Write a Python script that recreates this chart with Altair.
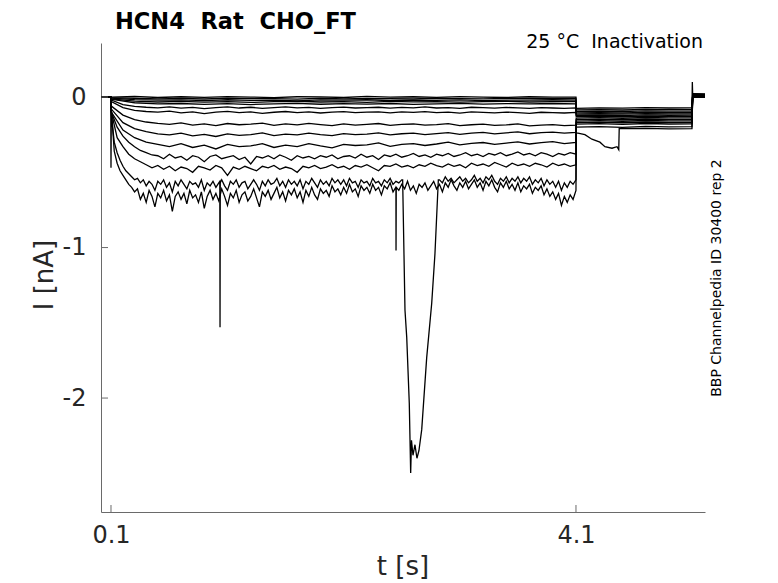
import altair as alt
import pandas as pd

# ---------------- data ----------------
# pre-pulse holding (t in s, I in nA), shared by all sweeps
pre_t = [0.014, 0.05, 0.098]
pre_v = [0.0, 0.002, 0.0]

# pulse samples, spread evenly from 0.103 s to 4.1 s for each sweep
pulse = {
    "s01": [0.0, 0.004, -0.003, 0.002, -0.002, 0.003, 0.0, -0.004, 0.002, 0.001, -0.003, 0.004, -0.001, 0.002, -0.002, 0.003, 0.0, -0.003, 0.002, -0.001, 0.0],
    "s02": [-0.004, -0.008, -0.012, -0.009, -0.013, -0.007, -0.011, -0.01, -0.014, -0.008, -0.012, -0.009, -0.011, -0.013, -0.008, -0.01, -0.012, -0.009, -0.011, -0.01, -0.009],
    "s03": [-0.008, -0.017, -0.021, -0.019, -0.024, -0.018, -0.022, -0.02, -0.025, -0.019, -0.021, -0.018, -0.023, -0.02, -0.022, -0.019, -0.024, -0.02, -0.021, -0.018, -0.02],
    "s04": [-0.012, -0.027, -0.033, -0.029, -0.034, -0.03, -0.036, -0.031, -0.028, -0.033, -0.03, -0.035, -0.029, -0.032, -0.03, -0.034, -0.031, -0.028, -0.033, -0.03, -0.031],
    "s05": [-0.015, -0.038, -0.046, -0.043, -0.049, -0.044, -0.05, -0.045, -0.042, -0.048, -0.044, -0.047, -0.043, -0.049, -0.045, -0.042, -0.047, -0.044, -0.046, -0.043, -0.045],
    "s06": [-0.02, -0.05, -0.062, -0.068, -0.072, -0.066, -0.074, -0.069, -0.077, -0.07, -0.065, -0.073, -0.068, -0.075, -0.07, -0.066, -0.072, -0.069, -0.076, -0.071, -0.067, -0.073, -0.07, -0.068, -0.074, -0.069, -0.072, -0.066, -0.073, -0.07, -0.075, -0.068, -0.071, -0.074, -0.069, -0.072, -0.076, -0.07, -0.073, -0.075, -0.072],
    "s07": [-0.03, -0.07, -0.088, -0.096, -0.1, -0.094, -0.105, -0.098, -0.11, -0.1, -0.095, -0.104, -0.099, -0.108, -0.101, -0.096, -0.103, -0.099, -0.106, -0.1, -0.097, -0.104, -0.1, -0.098, -0.105, -0.099, -0.102, -0.097, -0.104, -0.1, -0.107, -0.099, -0.102, -0.105, -0.1, -0.103, -0.108, -0.101, -0.104, -0.106, -0.102],
    "s08": [-0.06, -0.12, -0.15, -0.166, -0.175, -0.182, -0.172, -0.186, -0.178, -0.19, -0.176, -0.184, -0.18, -0.173, -0.188, -0.179, -0.185, -0.175, -0.183, -0.19, -0.178, -0.186, -0.181, -0.176, -0.188, -0.182, -0.179, -0.187, -0.183, -0.177, -0.19, -0.184, -0.18, -0.188, -0.185, -0.179, -0.192, -0.186, -0.183, -0.19, -0.187],
    "s09": [-0.08, -0.17, -0.21, -0.23, -0.245, -0.252, -0.24, -0.258, -0.248, -0.262, -0.245, -0.255, -0.25, -0.238, -0.256, -0.247, -0.252, -0.24, -0.25, -0.257, -0.243, -0.25, -0.246, -0.238, -0.252, -0.244, -0.24, -0.25, -0.243, -0.236, -0.248, -0.24, -0.235, -0.245, -0.238, -0.232, -0.244, -0.236, -0.233, -0.24, -0.235],
    "s10": [-0.1, -0.22, -0.27, -0.3, -0.315, -0.33, -0.31, -0.335, -0.32, -0.345, -0.315, -0.33, -0.325, -0.31, -0.335, -0.32, -0.33, -0.31, -0.325, -0.338, -0.315, -0.322, -0.318, -0.305, -0.328, -0.315, -0.31, -0.322, -0.312, -0.3, -0.318, -0.308, -0.302, -0.315, -0.306, -0.298, -0.312, -0.303, -0.296, -0.31, -0.302],
    "s11": [-0.1, -0.2, -0.26, -0.3, -0.33, -0.355, -0.37, -0.385, -0.39, -0.41, -0.38, -0.405, -0.395, -0.42, -0.39, -0.4, -0.43, -0.395, -0.385, -0.41, -0.4, -0.39, -0.415, -0.4, -0.445, -0.395, -0.405, -0.39, -0.41, -0.385, -0.4, -0.42, -0.39, -0.405, -0.395, -0.41, -0.39, -0.4, -0.385, -0.41, -0.395, -0.39, -0.405, -0.38, -0.4, -0.39, -0.415, -0.385, -0.395, -0.38, -0.4, -0.39, -0.375, -0.395, -0.385, -0.4, -0.38, -0.39, -0.375, -0.395, -0.385, -0.37, -0.39, -0.38, -0.395, -0.375, -0.385, -0.37, -0.39, -0.38, -0.365, -0.385, -0.375, -0.39, -0.37, -0.38, -0.395, -0.375, -0.385, -0.37, -0.38],
    "s12": [-0.1, -0.27, -0.33, -0.38, -0.41, -0.43, -0.45, -0.47, -0.455, -0.48, -0.46, -0.49, -0.465, -0.475, -0.5, -0.46, -0.47, -0.485, -0.455, -0.47, -0.52, -0.465, -0.48, -0.46, -0.475, -0.49, -0.46, -0.47, -0.455, -0.48, -0.465, -0.475, -0.5, -0.46, -0.47, -0.455, -0.475, -0.465, -0.45, -0.47, -0.46, -0.48, -0.455, -0.465, -0.45, -0.47, -0.49, -0.455, -0.46, -0.445, -0.465, -0.455, -0.47, -0.45, -0.46, -0.44, -0.455, -0.465, -0.445, -0.46, -0.45, -0.47, -0.44, -0.455, -0.445, -0.46, -0.435, -0.45, -0.465, -0.44, -0.455, -0.445, -0.46, -0.44, -0.45, -0.465, -0.44, -0.455, -0.445, -0.46, -0.45],
    "s13": [-0.12, -0.3, -0.37, -0.42, -0.46, -0.49, -0.51, -0.53, -0.55, -0.54,
            -0.57, -0.55, -0.59, -0.56, -0.58, -0.62, -0.56, -0.58, -0.55, -0.6,
            -0.57, -0.63, -0.56, -0.59, -0.55, -0.58, -0.61, -0.56, -0.58, -0.57,
            -0.6, -0.55, -0.62, -0.57, -0.59, -0.56, -0.6, -0.57, -0.55, -0.59,
            -0.62, -0.56, -0.58, -0.55, -0.6, -0.57, -0.56, -0.61, -0.58, -0.55,
            -0.58, -0.62, -0.56, -0.59, -0.55, -0.58, -0.57, -0.54, -0.59, -0.56,
            -0.6, -0.55, -0.58, -0.56, -0.59, -0.55, -0.61, -0.56, -0.58, -0.54,
            -0.57, -0.6, -0.55, -0.58, -0.56, -0.59, -0.54, -0.57, -0.55, -0.58,
            -0.55, -0.59, -0.54, -0.57, -0.56, -0.6, -0.55, -0.57, -0.56, -0.59,
            -0.54, -0.57, -0.56, -0.59, -0.55, -0.57, -0.54, -0.58, -0.56, -0.57,
            -0.55, -0.58, -0.54, -0.57, -0.55, -0.59, -0.54, -0.56, -0.55, -0.58,
            -0.54, -0.56, -0.58, -0.55, -0.57, -0.53, -0.56, -0.54, -0.57, -0.55,
            -0.53, -0.56, -0.54, -0.57, -0.55, -0.52, -0.56, -0.54, -0.57, -0.53,
            -0.55, -0.52, -0.56, -0.58, -0.54, -0.56, -0.53, -0.57, -0.54, -0.56,
            -0.53, -0.57, -0.54, -0.56, -0.53, -0.58, -0.55, -0.57, -0.54, -0.59,
            -0.55, -0.58, -0.56, -0.6, -0.56, -0.62, -0.57, -0.6, -0.56, -0.58, -0.55],
    "s14": [-0.08, -0.36, -0.44, -0.49, -0.52, -0.55, -0.58, -0.6, -0.63, -0.61,
            -0.68, -0.64, -0.7, -0.62, -0.66, -0.73, -0.64, -0.67, -0.62, -0.69,
            -0.65, -0.76, -0.66, -0.63, -0.68, -0.64, -0.71, -0.62, -0.67, -0.65,
            -0.7, -0.63, -0.74, -0.66, -0.62, -0.68, -0.64, -0.69, -0.61, -0.66,
            -0.72, -0.64, -0.67, -0.62, -0.7, -0.65, -0.63, -0.69, -0.66, -0.61,
            -0.67, -0.73, -0.63, -0.66, -0.62, -0.68, -0.64, -0.6, -0.67, -0.63,
            -0.69, -0.62, -0.65, -0.61, -0.67, -0.63, -0.7, -0.62, -0.66, -0.6,
            -0.65, -0.68, -0.61, -0.64, -0.62, -0.66, -0.59, -0.63, -0.61, -0.65,
            -0.6, -0.64, -0.58, -0.63, -0.61, -0.66, -0.59, -0.62, -0.6, -0.64,
            -0.58, -0.62, -0.6, -0.65, -0.59, -0.61, -0.57, -0.63, -0.6, -0.62,
            -0.58, -0.61, -0.56, -0.62, -0.59, -0.64, -0.58, -0.6, -0.57, -0.62,
            -0.59, -0.56, -0.61, -0.58, -0.63, -0.57, -0.6, -0.55, -0.59, -0.62,
            -0.57, -0.6, -0.56, -0.61, -0.58, -0.55, -0.6, -0.57, -0.62, -0.56,
            -0.59, -0.55, -0.6, -0.63, -0.57, -0.6, -0.56, -0.61, -0.58, -0.62,
            -0.57, -0.63, -0.59, -0.61, -0.58, -0.64, -0.6, -0.62, -0.59, -0.65,
            -0.61, -0.66, -0.63, -0.68, -0.64, -0.72, -0.66, -0.7, -0.65, -0.68, -0.62],
}

# tail (test step) samples
tail_t = [4.102, 4.3, 4.5, 4.7, 4.9, 5.098]
tail = {
    "s01": [-0.075, -0.072, -0.074, -0.071, -0.073, -0.072],
    "s02": [-0.085, -0.083, -0.086, -0.082, -0.084, -0.083],
    "s03": [-0.095, -0.093, -0.096, -0.092, -0.094, -0.093],
    "s04": [-0.105, -0.103, -0.106, -0.102, -0.104, -0.103],
    "s05": [-0.113, -0.111, -0.114, -0.11, -0.112, -0.111],
    "s06": [-0.122, -0.12, -0.123, -0.119, -0.121, -0.12],
    "s07": [-0.13, -0.128, -0.131, -0.127, -0.129, -0.128],
    "s08": [-0.14, -0.137, -0.141, -0.136, -0.139, -0.138],
    "s09": [-0.15, -0.147, -0.151, -0.146, -0.149, -0.148],
    "s10": [-0.16, -0.157, -0.161, -0.156, -0.159, -0.158],
    "s11": [-0.17, -0.167, -0.171, -0.166, -0.169, -0.168],
    "s12": [-0.18, -0.177, -0.181, -0.176, -0.179, -0.178],
    "s13": [-0.2, -0.196, -0.201, -0.195, -0.198, -0.197],
}
# sweep s14 tail has its own slow dip
s14_tail_t = [4.102, 4.117, 4.177, 4.237, 4.306, 4.349, 4.41, 4.453, 4.468, 4.472, 4.7, 4.9, 5.098]
s14_tail_v = [-0.24, -0.24, -0.25, -0.28, -0.3, -0.33, -0.34, -0.33, -0.35, -0.21, -0.208, -0.212, -0.21]

# after the test step (one value per sweep, then end of record)
post_t = [5.104, 5.21]
post_v = {
    "s01": [0.015, 0.012], "s02": [0.02, 0.018], "s03": [0.006, 0.004], "s04": [0.01, 0.008],
    "s05": [0.0, -0.002], "s06": [0.018, 0.016], "s07": [0.004, 0.002], "s08": [0.012, 0.01],
    "s09": [0.008, 0.006], "s10": [0.022, 0.02], "s11": [0.002, 0.0], "s12": [0.014, 0.012],
    "s13": [0.009, 0.007], "s14": [0.016, 0.014],
}
jump_t = [5.101]          # sweep s01 overshoot at the step back
jump_v = [0.1]

# capacitive spike at pulse onset (sweep s14)
onset_t = [0.1]
onset_v = [-0.47]

# brief events inside the pulse
spike13_t = [1.036, 1.038, 1.040]
spike13_v = [-0.56, -1.53, -0.57]
spike14_t = [2.550, 2.552, 2.554]
spike14_v = [-0.6, -1.02, -0.6]
dip13_t = [2.609, 2.629, 2.644, 2.666, 2.678, 2.685, 2.698, 2.715, 2.732, 2.749, 2.773, 2.816, 2.859, 2.887, 2.916]
dip13_v = [-0.55, -1.415, -1.595, -2.033, -2.498, -2.28, -2.38, -2.31, -2.4, -2.35, -2.21, -1.73, -1.37, -1.04, -0.55]

x_ticks = [0.1, 4.1]
y_ticks = [-2, -1, 0]

# ---------------- build the table ----------------
rows = []
for name, vals in pulse.items():
    pts = list(zip(pre_t, pre_v))
    n = len(vals)
    ptimes = [0.103 + (4.1 - 0.103) * i / (n - 1) for i in range(n)]
    pp = list(zip(ptimes, vals))
    if name == "s13":
        pp = [p for p in pp if not (dip13_t[0] <= p[0] <= dip13_t[-1])]
        pp += list(zip(dip13_t, dip13_v)) + list(zip(spike13_t, spike13_v))
    if name == "s14":
        pp += list(zip(onset_t, onset_v)) + list(zip(spike14_t, spike14_v))
    pts += pp
    if name == "s14":
        pts += list(zip(s14_tail_t, s14_tail_v))
    else:
        pts += list(zip(tail_t, tail[name]))
    if name == "s01":
        pts += list(zip(jump_t, jump_v))
    pts += list(zip(post_t, post_v[name]))
    pts.sort(key=lambda p: p[0])
    for i, (t, v) in enumerate(pts):
        rows.append({"sweep": name, "t": t, "I": v, "idx": i})
df = pd.DataFrame(rows)

W, H = 604, 469
FONT = "DejaVu Sans"
TXT = "#262626"
AX = "#6a6a6a"
NB = "\u00a0"

xscale = alt.Scale(domain=[0.014, 5.21], nice=False, zero=False)
yscale = alt.Scale(domain=[-2.757, 0.359], nice=False, zero=False)
xaxis = alt.Axis(values=x_ticks, labelExpr="'' + datum.value", ticks=False, grid=False,
                 domainColor=AX, labelFontSize=24, labelColor=TXT, labelFont=FONT,
                 labelPadding=11, title=None)
yaxis = alt.Axis(values=y_ticks, labelExpr="'' + datum.value", ticks=False, grid=False,
                 domainColor=AX, labelFontSize=24, labelColor=TXT, labelFont=FONT,
                 labelPadding=15, title=None)

lines = alt.Chart(df).mark_line(color="black", strokeWidth=1.3).encode(
    x=alt.X("t:Q", scale=xscale, axis=xaxis),
    y=alt.Y("I:Q", scale=yscale, axis=yaxis),
    detail="sweep:N",
    order="idx:Q",
)

xt = alt.Chart(pd.DataFrame({"t": x_ticks})).mark_rule(color=AX, strokeWidth=1).encode(
    x=alt.X("t:Q", scale=xscale, axis=xaxis), y=alt.value(H), y2=alt.value(H - 7))
yt = alt.Chart(pd.DataFrame({"I": y_ticks})).mark_rule(color=AX, strokeWidth=1).encode(
    y=alt.Y("I:Q", scale=yscale, axis=yaxis), x=alt.value(0), x2=alt.value(7))

def label(text, x, y, size, **kw):
    return alt.Chart(pd.DataFrame({"s": [text]})).mark_text(
        font=FONT, fontSize=size, color=kw.pop("color", TXT), **kw
    ).encode(text="s:N", x=alt.value(x), y=alt.value(y))

title = label("HCN4" + NB + NB + "Rat" + NB + NB + "CHO_FT", 14, -14, 22.5, fontWeight="bold",
              align="left", baseline="alphabetic", color="black")
sub = label("25 °C" + NB + NB + "Inactivation", 602, 5, 19, align="right",
            baseline="alphabetic", color="black")
side = label("BBP Channelpedia ID 30400 rep 2", 616, 235, 14, angle=270, align="center",
             baseline="middle", color="black")
xlab = label("t [s]", 302, 532, 26, align="center", baseline="alphabetic")
ylab = label("I [nA]", -56, 232, 26, angle=270, align="center", baseline="middle")

chart = alt.layer(lines, xt, yt, title, sub, side, xlab, ylab).properties(
    width=W, height=H,
    padding={"left": 93, "top": 35, "right": 60, "bottom": 68},
    autosize=alt.AutoSizeParams(type="none"),
).configure_view(stroke=None)

chart.save("out.html", embed_options={"renderer": "svg", "actions": False})
